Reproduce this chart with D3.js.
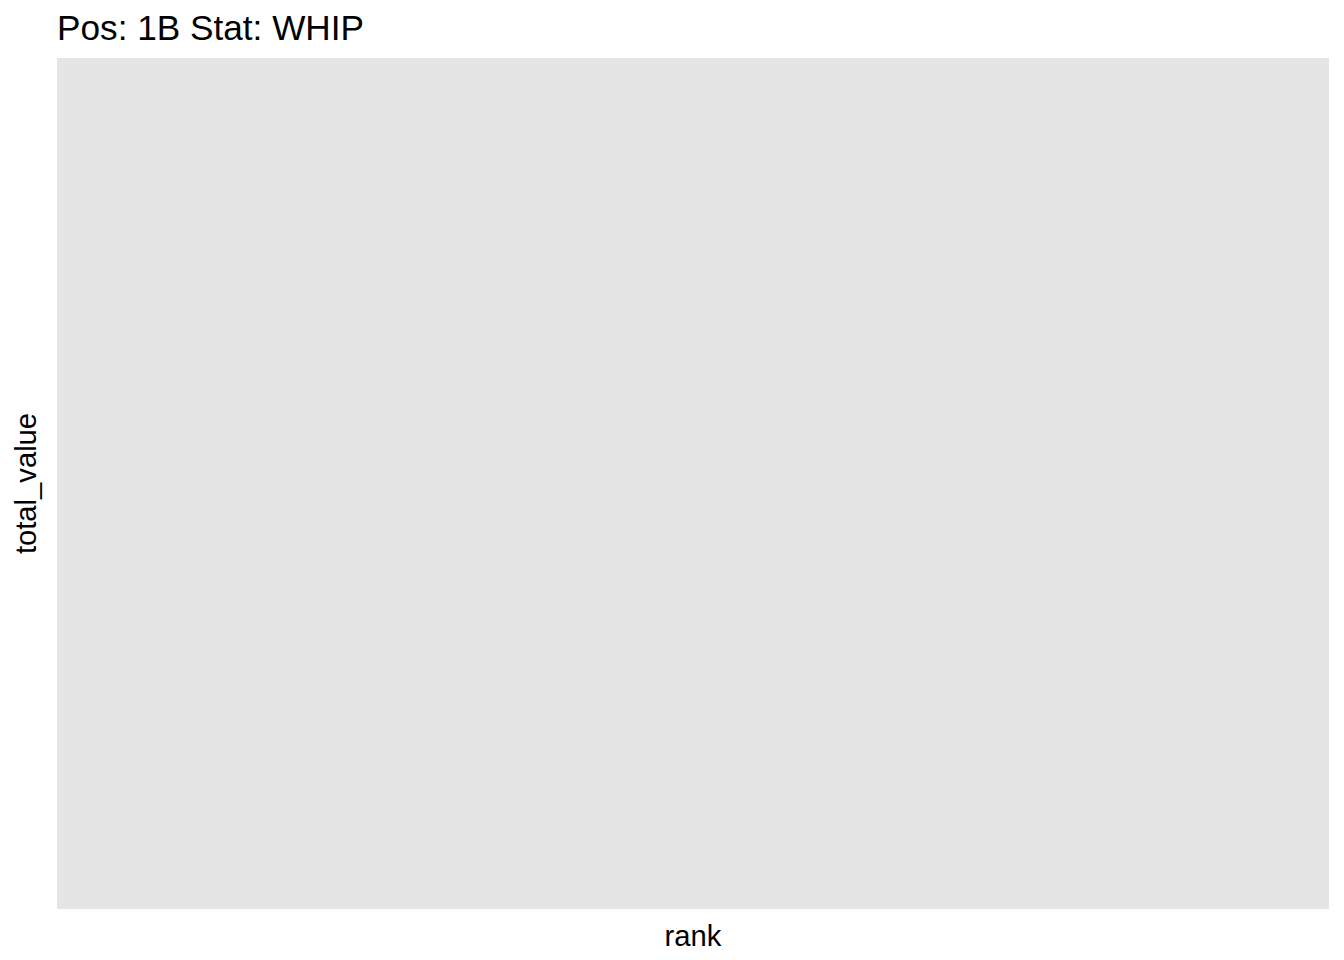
<!DOCTYPE html>
<html>
<head>
<meta charset="utf-8">
<script src="https://cdn.jsdelivr.net/npm/d3@7"></script>
<style>
  html, body { margin: 0; padding: 0; background: #ffffff; }
  svg { display: block; }
</style>
</head>
<body>
<script>
// Data: the reference plot is empty (no rows for this position/stat).
const ranks = [];
const totalValues = [];
const titleText = "Pos: 1B Stat: WHIP";
const xLabel = "rank";
const yLabel = "total_value";

const W = 1344, H = 960;
const margin = { top: 58, right: 15, bottom: 51, left: 57 };
const pw = W - margin.left - margin.right;
const ph = H - margin.top - margin.bottom;

const svg = d3.select("body").append("svg")
  .attr("width", W).attr("height", H)
  .style("font-family", "'Liberation Sans', Arial, sans-serif");

const x = d3.scaleLinear().domain(ranks.length ? d3.extent(ranks) : [0, 1]).range([0, pw]);
const y = d3.scaleLinear().domain(totalValues.length ? d3.extent(totalValues) : [0, 1]).range([ph, 0]);

const g = svg.append("g").attr("transform", `translate(${margin.left},${margin.top})`);

g.append("rect")
  .attr("width", pw).attr("height", ph)
  .attr("fill", "#e5e5e5");

g.selectAll("circle.pt")
  .data(ranks.map((r, i) => ({ r, v: totalValues[i] })))
  .join("circle")
  .attr("class", "pt")
  .attr("cx", d => x(d.r)).attr("cy", d => y(d.v)).attr("r", 3)
  .attr("fill", "#000");

svg.append("text")
  .attr("x", margin.left).attr("y", 40)
  .attr("font-size", 35.2).attr("fill", "#000")
  .text(titleText);

svg.append("text")
  .attr("x", margin.left + pw / 2).attr("y", 945.5)
  .attr("text-anchor", "middle")
  .attr("font-size", 29.2).attr("fill", "#000")
  .text(xLabel);

svg.append("text")
  .attr("transform", `translate(35.5,${margin.top + ph / 2}) rotate(-90)`)
  .attr("text-anchor", "middle")
  .attr("font-size", 29.2).attr("fill", "#000")
  .text(yLabel);
</script>
</body>
</html>
